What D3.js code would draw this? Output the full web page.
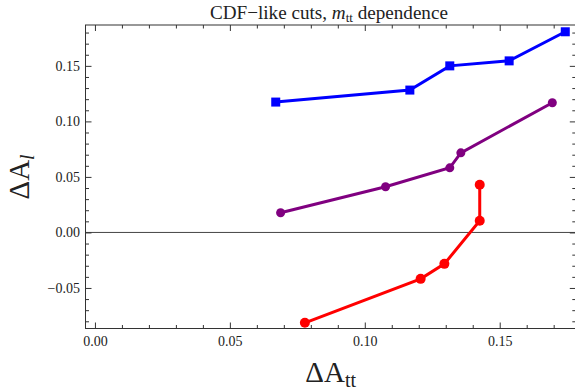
<!DOCTYPE html>
<html><head><meta charset="utf-8">
<script src="https://cdn.jsdelivr.net/npm/d3@7"></script>
<style>body{margin:0;background:#fff}svg{display:block}text{font-family:"Liberation Serif","Times New Roman",serif;fill:#222}</style>
</head><body><svg id="c" width="575" height="390"></svg>
<script>
const blueX=[0.067,0.1167,0.1315,0.1535,0.1743];
const blueY=[0.1174,0.1282,0.150,0.1545,0.1807];
const purpleX=[0.0688,0.1077,0.1315,0.1356,0.1695];
const purpleY=[0.0177,0.0411,0.0582,0.0717,0.1168];
const redX=[0.0778,0.1207,0.1295,0.1426,0.1426];
const redY=[-0.0814,-0.0418,-0.0283,0.0105,0.0429];
const xTicks=[0,0.05,0.10,0.15];
const yTicks=[-0.05,0,0.05,0.10,0.15];
const title="CDF\u2212like cuts, ";

const svg=d3.select("#c");
const L=85.5,R=575.8,T=25,B=328.5;
const x=d3.scaleLinear().domain([-0.0035,0.1782]).range([L,R]);
const y=d3.scaleLinear().domain([-0.0865,0.1868]).range([B,T]);
const fmt=d3.format(".2f");
const lab=v=>fmt(v).replace("-","\u2212");

svg.append("line").attr("x1",L).attr("x2",R).attr("y1",y(0)).attr("y2",y(0)).attr("stroke","#444").attr("stroke-width",1);

const xMinor=d3.range(0,0.1801,0.01).filter(v=>!xTicks.some(t=>Math.abs(t-v)<1e-6));
const yMinor=d3.range(-0.08,0.1801,0.01).filter(v=>!yTicks.some(t=>Math.abs(t-v)<1e-6));
function ax(axis,tr){const g=svg.append("g").attr("transform",tr).call(axis);g.attr("font-family","Liberation Serif").attr("font-size",14);g.select(".domain").remove();g.selectAll("line").attr("stroke","#333");g.selectAll("text").attr("fill","#222");return g;}
ax(d3.axisBottom(x).tickValues(xTicks).tickFormat(lab).tickSizeInner(-6).tickPadding(8),`translate(0,${B})`);
ax(d3.axisBottom(x).tickValues(xMinor).tickFormat("").tickSizeInner(-3.5),`translate(0,${B})`);
ax(d3.axisTop(x).tickValues(xTicks).tickFormat("").tickSizeInner(-6),`translate(0,${T})`);
ax(d3.axisTop(x).tickValues(xMinor).tickFormat("").tickSizeInner(-3.5),`translate(0,${T})`);
ax(d3.axisLeft(y).tickValues(yTicks).tickFormat(lab).tickSizeInner(-6).tickPadding(5.5),`translate(${L},0)`);
ax(d3.axisLeft(y).tickValues(yMinor).tickFormat("").tickSizeInner(-3.5),`translate(${L},0)`);
ax(d3.axisRight(y).tickValues(yTicks).tickFormat("").tickSizeInner(-6),`translate(${R},0)`);
ax(d3.axisRight(y).tickValues(yMinor).tickFormat("").tickSizeInner(-3.5),`translate(${R},0)`);

svg.append("rect").attr("x",L).attr("y",T).attr("width",R-L).attr("height",B-T).attr("fill","none").attr("stroke","#333").attr("stroke-width",1);

const line=d3.line().x(d=>x(d[0])).y(d=>y(d[1]));
function series(X,Y,color,shape){
  const pts=X.map((v,i)=>[v,Y[i]]);
  svg.append("path").datum(pts).attr("d",line).attr("fill","none").attr("stroke",color).attr("stroke-width",3);
  if(shape==="square"){
    svg.selectAll(null).data(pts).enter().append("rect").attr("x",d=>x(d[0])-4.5).attr("y",d=>y(d[1])-4.5).attr("width",9).attr("height",9).attr("fill",color);
  } else {
    svg.selectAll(null).data(pts).enter().append("circle").attr("cx",d=>x(d[0])).attr("cy",d=>y(d[1])).attr("r",shape).attr("fill",color);
  }
}
series(blueX,blueY,"#0000ff","square");
series(purpleX,purpleY,"#800080",4.5);
series(redX,redY,"#ff0000",5);

// title, fitted to the span 210..448
let fs=18;
const tt=svg.append("text").attr("x",210).attr("y",19);
const t1=tt.append("tspan").text(title);
const t2=tt.append("tspan").attr("font-style","italic").text("m");
const t3=tt.append("tspan").attr("dy",3).text("tt");
const t4=tt.append("tspan").attr("dy",-3).text(" dependence");
function setFs(s){tt.style("font-size",s+"px");t3.style("font-size",(s*0.68)+"px");}
setFs(fs);
const w=tt.node().getComputedTextLength();
fs=fs*238/w; setFs(fs);

// x label
const xl=svg.append("text").attr("x",(L+R)/2).attr("y",382).attr("text-anchor","middle").style("font-size","29px");
xl.append("tspan").text("\u0394A");
xl.append("tspan").attr("dy",5).style("font-size","20px").text("tt");

// y label
const yl=svg.append("text").attr("transform",`translate(29,${y(0.05)}) rotate(-90)`).attr("text-anchor","middle").style("font-size","29px");
yl.append("tspan").text("\u0394A");
yl.append("tspan").attr("dy",5).attr("font-style","italic").style("font-size","20px").text("l");
</script></body></html>
